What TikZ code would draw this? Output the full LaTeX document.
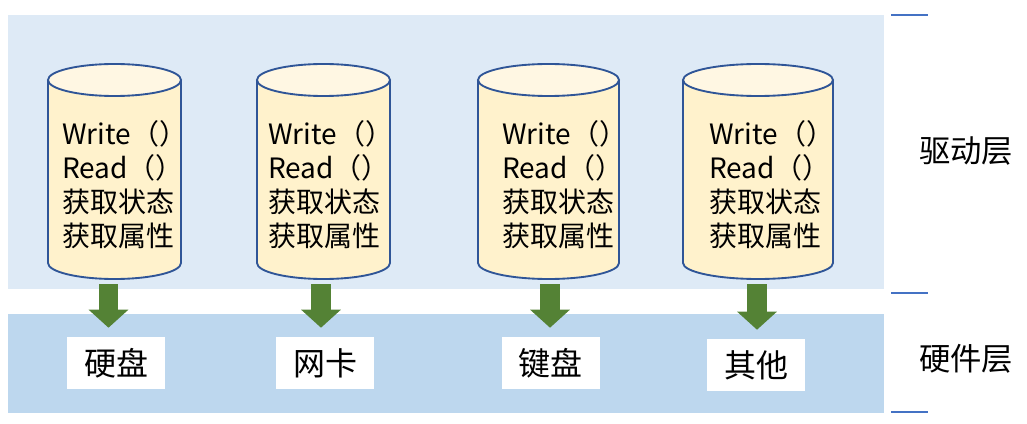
\documentclass[tikz,border=0pt]{standalone}
\usepackage{fontspec}
\setmainfont{Noto Sans CJK SC}
\usepackage{tikz}
\usetikzlibrary{arrows.meta}
\definecolor{drvbg}{HTML}{DEEAF6}
\definecolor{hwbg}{HTML}{BDD7EE}
\definecolor{cylbody}{HTML}{FFF2CC}
\definecolor{cylend}{HTML}{FFF7E3}
\definecolor{cylline}{HTML}{2F5597}
\definecolor{arrgreen}{HTML}{548235}
\definecolor{tickblue}{HTML}{4472C4}

\begin{document}
\begin{tikzpicture}[x=0.75pt,y=-0.75pt,
  body/.style={fill=cylbody,draw=cylline,line width=1.4pt},
  lid/.style={fill=cylend,draw=cylline,line width=1.4pt},
  api/.style={anchor=west,align=left,inner sep=0pt,font=\fontsize{21}{25.5}\selectfont},
  hwbox/.style={fill=white,minimum width=73.5pt,minimum height=39pt,inner sep=0pt,
    font=\fontsize{24}{28}\selectfont},
  layer/.style={font=\fontsize{23.5}{28}\selectfont},
  down/.style={draw=arrgreen,line width=14.5pt,-{Triangle[width=29pt,length=13.5pt]},
    shorten >=6.75pt},
  tick/.style={draw=tickblue,line width=1.5pt}]
\useasboundingbox (0,0) rectangle (1027,424);
% layers
\fill[drvbg] (8,15) rectangle (884,289);
\fill[hwbg] (8,314) rectangle (884,413);
\draw[tick] (891,15)--(928,15);
\draw[tick] (891,293)--(928,293);
\draw[tick] (891,412)--(928,412);
\node[layer] (drv) at (966,151) {驱动层};
\node[layer] (hw) at (966,359) {硬件层};
% drivers
\draw[body] (48,80)--(48,263) arc[start angle=180,end angle=0,x radius=66.5,y radius=16]--(181,80);
\draw[lid] (114.5,80) ellipse [x radius=66.5,y radius=16];
\draw[body] (257,80)--(257,263) arc[start angle=180,end angle=0,x radius=66.5,y radius=16]--(390,80);
\draw[lid] (323.5,80) ellipse [x radius=66.5,y radius=16];
\draw[body] (478,80)--(478,263) arc[start angle=180,end angle=0,x radius=70.5,y radius=16]--(619,80);
\draw[lid] (548.5,80) ellipse [x radius=70.5,y radius=16];
\draw[body] (683,80)--(683,263) arc[start angle=180,end angle=0,x radius=75,y radius=16]--(833,80);
\draw[lid] (758,80) ellipse [x radius=75,y radius=16];
\node[api] (api1) at (62,185) {Write（）\\Read（）\\获取状态\\获取属性};
\node[api] (api2) at (268,185) {Write（）\\Read（）\\获取状态\\获取属性};
\node[api] (api3) at (502,185) {Write（）\\Read（）\\获取状态\\获取属性};
\node[api] (api4) at (709,185) {Write（）\\Read（）\\获取状态\\获取属性};
\coordinate (out1) at (108.5,284);
\coordinate (out2) at (321,284);
\coordinate (out3) at (550,284);
\coordinate (out4) at (757,284);
% hardware
\node[hwbox] (disk) at (116,363) {硬盘};
\node[hwbox] (nic) at (325,363) {网卡};
\node[hwbox] (kbd) at (550.5,363) {键盘};
\node[hwbox] (other) at (756,365) {其他};
\draw[down] (out1) -- (out1 |- disk.north);
\draw[down] (out2) -- (out2 |- nic.north);
\draw[down] (out3) -- (out3 |- kbd.north);
\draw[down] (out4) -- (out4 |- other.north);
\end{tikzpicture}
\end{document}
